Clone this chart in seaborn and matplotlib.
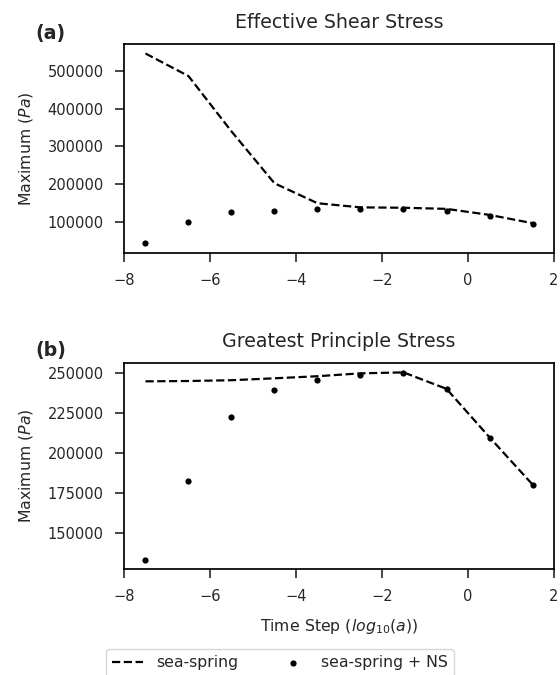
import matplotlib
matplotlib.use("Agg")
import matplotlib.pyplot as plt
import seaborn as sns
import pandas as pd

# x = log10 of the time step
time_step = [-7.5, -6.5, -5.5, -4.5, -3.5, -2.5, -1.5, -0.5, 0.5, 1.5]

# (a) effective shear stress, maximum (Pa)
shear_spring = [547000, 487000, 340000, 202000, 149000, 138000, 137000, 134000, 118000, 96000]
shear_spring_ns = [42000, 99000, 125000, 129000, 135000, 135000, 135000, 129000, 115000, 94000]

# (b) greatest principle stress, maximum (Pa)
principal_spring = [244800, 245000, 245500, 246700, 248000, 249800, 250400, 240100, 209800, 180300]
principal_spring_ns = [133300, 182200, 222600, 239300, 245500, 249000, 250200, 239700, 209600, 179700]

x_ticks = [-8, -6, -4, -2, 0, 2]
shear_yticks = [100000, 200000, 300000, 400000, 500000]
principal_yticks = [150000, 175000, 200000, 225000, 250000]

sns.set_theme(style="ticks")
plt.rcParams.update({
    "font.family": ["DejaVu Sans"],
    "axes.linewidth": 1.25,
    "axes.edgecolor": "black",
    "xtick.major.size": 6.5,
    "ytick.major.size": 6.5,
    "xtick.major.width": 1.2,
    "ytick.major.width": 1.2,
    "xtick.major.pad": 8,
    "ytick.major.pad": 8,
    "xtick.labelsize": 10.5,
    "ytick.labelsize": 10.5,
    "axes.labelsize": 11.3,
    "axes.labelpad": 9,
    "axes.titlesize": 13.7,
    "axes.titlepad": 11.5,
    "legend.fontsize": 11.3,
})

fig = plt.figure(figsize=(5.6, 6.75), dpi=100)
ax_a = fig.add_axes([0.2214, 0.6252, 0.7679, 0.3096])
ax_b = fig.add_axes([0.2214, 0.1570, 0.7679, 0.3052])

panels = [
    (ax_a, shear_spring, shear_spring_ns, shear_yticks, "Effective Shear Stress", "(a)", 1.052),
    (ax_b, principal_spring, principal_spring_ns, principal_yticks, "Greatest Principle Stress", "(b)", 1.06),
]

for ax, spring, spring_ns, yticks, title, tag, tag_y in panels:
    df = pd.DataFrame({"step": time_step, "spring": spring, "spring_ns": spring_ns})
    sns.lineplot(data=df, x="step", y="spring", ax=ax, color="black", linestyle="--",
                 linewidth=1.6, label="sea-spring", legend=False)
    sns.scatterplot(data=df, x="step", y="spring_ns", ax=ax, color="black", s=20,
                    linewidth=0, label="sea-spring + NS", legend=False, zorder=3)
    ax.set_xlim(-8, 2)
    ax.set_xticks(x_ticks)
    ax.set_yticks(yticks)
    ax.set_title(title)
    ax.set_ylabel("Maximum ($Pa$)")
    ax.set_xlabel("")
    ax.text(-0.205, tag_y, tag, transform=ax.transAxes,
            fontsize=13.7, fontweight="bold", va="center", ha="left")

ax_b.set_xlabel("Time Step ($log_{10}(a)$)")

handles, labels = ax_b.get_legend_handles_labels()
fig.legend(handles, labels, loc="upper center", bbox_to_anchor=(0.5, 1 - 649 / 675),
           ncol=2, columnspacing=2.5, borderaxespad=0, frameon=True)

fig.savefig("out.png", dpi=100)
